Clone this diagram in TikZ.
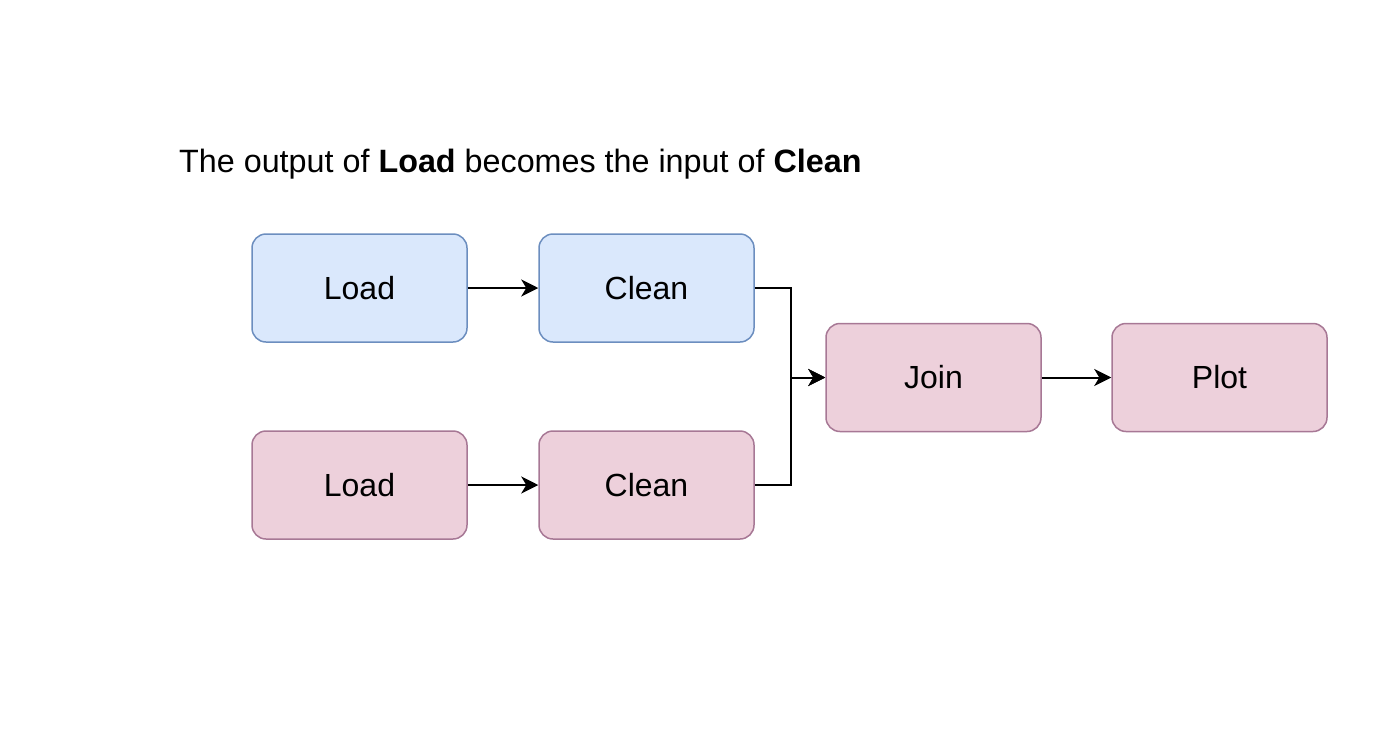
\documentclass[tikz,border=0pt]{standalone}
\usepackage{fontspec}
\setmainfont{Liberation Sans}
\usetikzlibrary{arrows.meta}
\definecolor{bluefill}{HTML}{DAE8FC}
\definecolor{bluedraw}{HTML}{6C8EBF}
\definecolor{pinkfill}{HTML}{EDD0DB}
\definecolor{pinkdraw}{HTML}{A77895}
\tikzset{
  box/.style={draw, line width=1.5pt, rounded corners=14pt, minimum width=215pt, minimum height=108pt, inner sep=0pt, font=\fontsize{32}{38}\selectfont},
  bluebox/.style={box, fill=bluefill, draw=bluedraw},
  pinkbox/.style={box, fill=pinkfill, draw=pinkdraw},
  conn/.style={line width=2pt, black, -{Stealth[length=17pt,width=17pt,inset=5pt]}}
}
\begin{document}
\begin{tikzpicture}[x=1pt,y=-1pt]
\useasboundingbox (0,0) rectangle (1400,755);
\node[anchor=base west, inner sep=0pt, font=\fontsize{32.3}{38}\selectfont] (title) at (179,172) {The output of \textbf{Load} becomes the input of \textbf{Clean}};
\node[bluebox] (load1) at (359.5,288) {Load};
\node[bluebox] (clean1) at (646.5,288) {Clean};
\node[pinkbox] (load2) at (359.5,485) {Load};
\node[pinkbox] (clean2) at (646.5,485) {Clean};
\node[pinkbox] (join) at (933.5,377.5) {Join};
\node[pinkbox] (plot) at (1219.5,377.5) {Plot};
\draw[conn] (load1) -- (clean1);
\draw[conn] (load2) -- (clean2);
\draw[conn] (clean1.east) -- ++(36,0) |- (join.west);
\draw[conn] (clean2.east) -- ++(36,0) |- (join.west);
\draw[conn] (join) -- (plot);
\end{tikzpicture}
\end{document}
